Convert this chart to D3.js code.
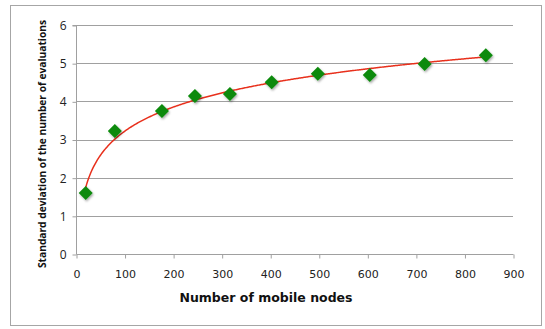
<!DOCTYPE html>
<html><head><meta charset="utf-8">
<script src="https://cdn.jsdelivr.net/npm/d3@7"></script>
<style>body{margin:0;background:#fff}</style>
</head><body>
<svg id="c" width="545" height="329"></svg>
<script>
const nodes = [20, 80, 177, 245, 317, 403, 498, 605, 718, 844];
const stdDev = [1.6, 3.22, 3.75, 4.14, 4.19, 4.5, 4.72, 4.69, 4.98, 5.21];
const xTicks = [0, 100, 200, 300, 400, 500, 600, 700, 800, 900];
const yTicks = [0, 1, 2, 3, 4, 5, 6];

const svg = d3.select("#c");
svg.append("rect").attr("x", 10.5).attr("y", 5.5).attr("width", 531).attr("height", 320)
  .attr("fill", "#fff").attr("stroke", "#a6a6a6");

const x = d3.scaleLinear().domain([0, 900]).range([76, 513]);
const y = d3.scaleLinear().domain([0, 6]).range([254, 25]);

const defs = svg.append("defs");
const f = defs.append("filter").attr("id", "sh").attr("x", "-50%").attr("y", "-50%").attr("width", "200%").attr("height", "200%");
f.append("feDropShadow").attr("dx", 1).attr("dy", 1.5).attr("stdDeviation", 1.2).attr("flood-color", "#000").attr("flood-opacity", 0.35);

// gridlines
svg.append("g").selectAll("line").data(yTicks.filter(d => d > 0)).join("line")
  .attr("x1", 76).attr("x2", 513).attr("y1", d => Math.round(y(d)) + 0.5).attr("y2", d => Math.round(y(d)) + 0.5)
  .attr("stroke", "#a0a0a0").attr("stroke-width", 1.2);

// y axis
const ya = svg.append("g").attr("transform", "translate(76.5,0.5)")
  .call(d3.axisLeft(y).tickValues(yTicks).tickSize(4).tickPadding(6).tickFormat(d3.format("d")));
ya.select(".domain").attr("stroke", "#a0a0a0").attr("d", "M-4," + y(6) + "H0V" + y(0));
ya.selectAll(".tick line").attr("stroke", "#a0a0a0");
ya.selectAll("text").attr("font-family", "Open Sans, sans-serif").attr("font-size", 12).attr("fill", "#222");

// x axis
const xa = svg.append("g").attr("transform", "translate(0.5,254.5)")
  .call(d3.axisBottom(x).tickValues(xTicks).tickSize(4).tickPadding(12));
xa.select(".domain").attr("stroke", "#a0a0a0").attr("d", "M" + x(0) + ",0H" + x(900));
xa.selectAll(".tick line").attr("stroke", "#a0a0a0");
xa.selectAll("text").attr("font-family", "DejaVu Sans, sans-serif").attr("font-size", 11).attr("fill", "#222");

// logarithmic trendline (least squares on ln x)
const lx = nodes.map(Math.log);
const mx = d3.mean(lx), my = d3.mean(stdDev);
const a = d3.sum(lx.map((v, i) => (v - mx) * (stdDev[i] - my))) / d3.sum(lx.map(v => (v - mx) ** 2));
const b = my - a * mx;
const trendX = d3.range(nodes[0], nodes[nodes.length - 1] + 1, 2);
svg.append("path").datum(trendX)
  .attr("d", d3.line().x(d => x(d)).y(d => y(a * Math.log(d) + b)))
  .attr("fill", "none").attr("stroke", "#e8301c").attr("stroke-width", 1.5);

// markers
svg.append("g").selectAll("path").data(nodes).join("path")
  .attr("transform", (d, i) => `translate(${x(d)},${y(stdDev[i])})`)
  .attr("d", "M0,-7L7,0L0,7L-7,0Z")
  .attr("fill", "#0a8a0a").attr("filter", "url(#sh)");

// titles
svg.append("text").attr("x", 266).attr("y", 302).attr("text-anchor", "middle")
  .attr("font-family", "DejaVu Sans, sans-serif").attr("font-weight", "bold").attr("font-size", 12.5).attr("fill", "#111")
  .text("Number of mobile nodes");
svg.append("text").attr("transform", "translate(46,144) rotate(-90)").attr("text-anchor", "middle")
  .attr("font-family", "Open Sans, sans-serif").attr("font-weight", "bold").attr("font-size", 10).attr("fill", "#111")
  .attr("textLength", 248).attr("lengthAdjust", "spacingAndGlyphs")
  .text("Standard deviation of the number of evaluations");
</script>
</body></html>
